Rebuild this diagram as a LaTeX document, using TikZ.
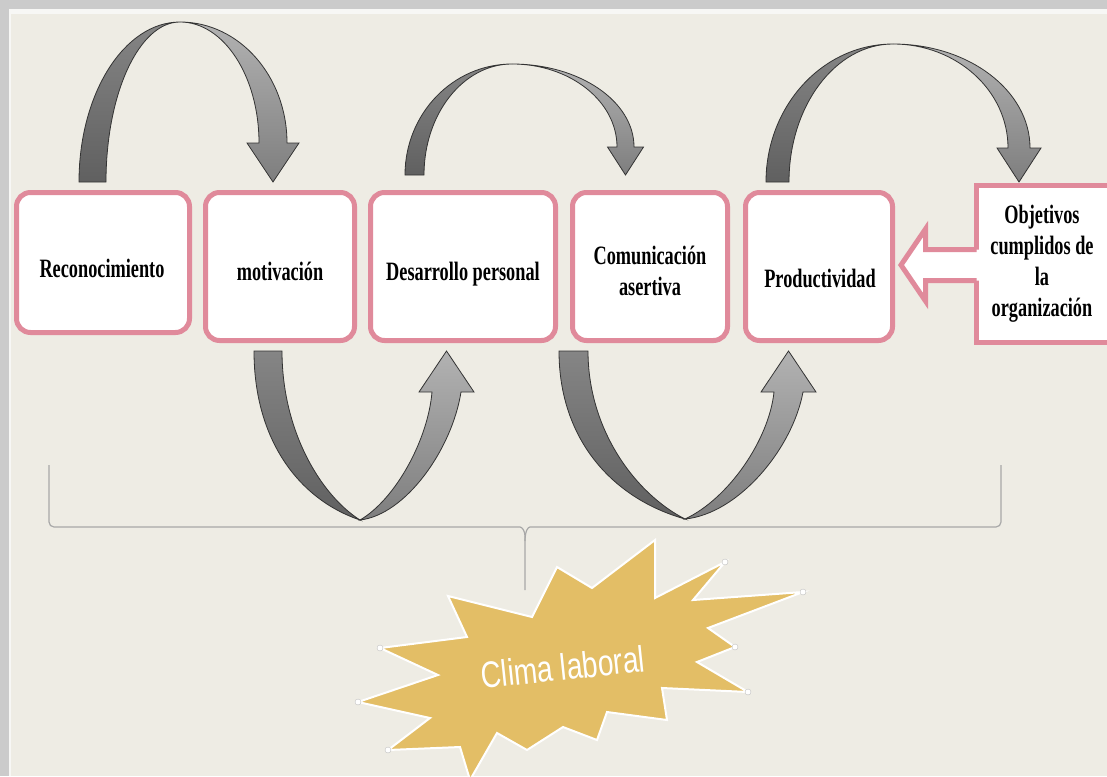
\documentclass[tikz,border=0pt]{standalone}
\usepackage{fontspec}
\newfontfamily\boxfont{Liberation Serif}[FakeStretch=0.69]
\newfontfamily\climafont{Liberation Sans}[FakeStretch=0.76]
\usetikzlibrary{calc}

\definecolor{bgbeige}{HTML}{EEECE4}
\definecolor{framegray}{HTML}{CBCBCB}
\definecolor{framelight}{HTML}{F7F7F5}
\definecolor{boxpink}{HTML}{E08A9B}
\definecolor{darkTop}{HTML}{858585}
\definecolor{darkBot}{HTML}{606060}
\definecolor{lightTop}{HTML}{B2B2B2}
\definecolor{lightBot}{HTML}{7E7E7E}
\definecolor{starfill}{HTML}{E3BE66}
\definecolor{bracegray}{HTML}{A8A8A8}

\tikzset{
  stagebox/.style={draw=boxpink, line width=5pt, fill=white, rounded corners=14pt, inner sep=0pt},
  goalbox/.style={draw=boxpink, line width=5pt, fill=white, inner sep=0pt},
  stagetext/.style={font=\boxfont\bfseries\fontsize{26.5}{31}\selectfont, align=center, text=black, inner sep=0pt},
  backband/.style={draw=black!80, line width=0.8pt, top color=darkTop, bottom color=darkBot},
  frontband/.style={draw=black!80, line width=0.8pt, top color=lightTop, bottom color=lightBot},
}

% Curved arrow over the boxes:
% #1,#2 tail edges, #3 tail end y, #4,#5 crest, #6 head base y, #7,#8 shaft edges at head, #9 half head width
\newcommand\overarrow[9]{%
  \path[backband] (#1,#3) .. controls (#1,{#3+0.5523*(#5-#3)}) and ({#4+0.5523*(#1-#4)},#5) .. (#4,#5)
     .. controls ({#4+0.5523*(#2-#4)},#5) and (#2,{#3+0.5523*(#5-#3)}) .. (#2,#3) -- cycle;
  \path[frontband] (#4,#5) .. controls ({#4+0.5523*(#8-#4)},#5) and (#8,{#6+0.5523*(#5-#6)}) .. (#8,#6)
     -- ({(#7+#8)/2+#9},#6) -- ({(#7+#8)/2},#3) -- ({(#7+#8)/2-#9},#6) -- (#7,#6)
     .. controls (#7,{#6+0.5523*(#5-#6)}) and ({#4+0.5523*(#7-#4)},#5) .. (#4,#5) -- cycle;
}
% Curved arrow under the boxes (U shape with a narrow bottom)
\newcommand\underarrow[9]{%
  \path[backband] (#1,#3) .. controls (#1,{#3+0.53*(#5-#3)}) and ({#4-0.57*(#4-#1)},{#5-0.12*(#5-#3)}) .. (#4,#5)
     .. controls ({#4-0.51*(#4-#2)},{#5-0.15*(#5-#3)}) and (#2,{#3+0.47*(#5-#3)}) .. (#2,#3) -- cycle;
  \path[frontband] (#4,#5) .. controls ({#4+0.45*(#8-#4)},{#5-0.04*(#5-#6)}) and ({#8-0.09*(#8-#4)},{#6+0.45*(#5-#6)}) .. (#8,#6)
     -- ({(#7+#8)/2+#9},#6) -- ({(#7+#8)/2},#3) -- ({(#7+#8)/2-#9},#6) -- (#7,#6)
     .. controls ({#7-0.056*(#7-#4)},{#6+0.375*(#5-#6)}) and ({#4+0.49*(#7-#4)},{#5-0.16*(#5-#6)}) .. (#4,#5) -- cycle;
}

\begin{document}
\begin{tikzpicture}[x=1pt, y=-1pt]
  \useasboundingbox (0,0) rectangle (1107,776);
  \clip (0,0) rectangle (1107,776);

  % slide frame and background
  \fill[framegray] (0,0) rectangle (1107,776);
  \fill[framelight] (9,9) rectangle (1107,776);
  \fill[bgbeige] (11,14) rectangle (1107,776);

  % stage boxes
  \node[stagebox, minimum width=173pt, minimum height=140pt] (b1) at (103,262.5) {};
  \node[stagebox, minimum width=149pt, minimum height=148pt] (b2) at (280,266.5) {};
  \node[stagebox, minimum width=185pt, minimum height=148pt] (b3) at (463,266.5) {};
  \node[stagebox, minimum width=155pt, minimum height=148pt] (b4) at (650,266.5) {};
  \node[stagebox, minimum width=147pt, minimum height=148pt] (b5) at (819,266.5) {};
  \node[goalbox, minimum width=133pt, minimum height=157pt] (b6) at (1043,264) {};

  % block arrow from the goals box into Productividad
  \path[fill=white] (980,249.5) -- (925.5,249.5) -- (925.5,229) -- (901,265) -- (925.5,301) -- (925.5,280.5) -- (980,280.5) -- cycle;
  \draw[boxpink, line width=5pt, line join=miter] (976.5,249.5) -- (925.5,249.5) -- (925.5,229) -- (901,265)
      -- (925.5,301) -- (925.5,280.5) -- (976.5,280.5);

  % labels
  \node[stagetext] (t1) at (102,268) {Reconocimiento};
  \node[stagetext] (t2) at (280,271) {motivación};
  \node[stagetext] (t3) at (463,274) {Desarrollo personal};
  \node[stagetext] (t4) at (650,271) {Comunicación\\asertiva};
  \node[stagetext] (t5) at (820,278) {Productividad};
  \node[stagetext] (t6) at (1042,264) {Objetivos\\cumplidos de\\la\\organización};

  % curved arrows linking the stages
  \overarrow{79}{106}{182}{180}{22}{143}{259}{287}{26}
  \overarrow{405}{424}{175}{512}{64}{147}{617}{634}{18}
  \overarrow{766}{789}{182}{893}{44}{148}{1008}{1030}{22}
  \underarrow{254}{282}{351}{360}{520}{392}{432}{461}{27.5}
  \underarrow{559}{588}{351}{685}{519}{392}{774}{803}{27.5}

  % brace gathering all stages
  \draw[bracegray, line width=1.2pt, rounded corners=5pt] (49,465) -- (49,527) -- (515,527)
      .. controls (522,527) and (525,531) .. (525,541) -- (525,590);
  \draw[bracegray, line width=1.2pt, rounded corners=5pt] (525,541) .. controls (525,531) and (528,527) .. (535,527)
      -- (1001,527) -- (1001,465);

  % explosion shape
  \path[fill=starfill, draw=white, line width=2pt, line join=miter]
    (655,540) -- (655,598) -- (725,562) -- (693,600) -- (803,592) -- (708,628) -- (735,647)
    -- (697,662) -- (748,692) -- (662,688) -- (667,720) -- (607,712) -- (597,740) -- (563,727)
    -- (527,750) -- (497,733) -- (470,780) -- (460,747) -- (388,750) -- (430,718) -- (358,702)
    -- (438,675) -- (380,648) -- (467,637) -- (448,596) -- (532,617) -- (557,567) -- (592,588) -- cycle;
  \foreach \p in {(380,648),(358,702),(388,750),(725,562),(803,592),(735,647),(748,692)}
    \path[fill=white, draw=black!25, line width=0.4pt] \p circle[radius=3pt];
  \node[font=\climafont\fontsize{37}{42}\selectfont, text=white, rotate=6, inner sep=0pt] (clima) at (563,667) {Clima laboral};
\end{tikzpicture}
\end{document}
